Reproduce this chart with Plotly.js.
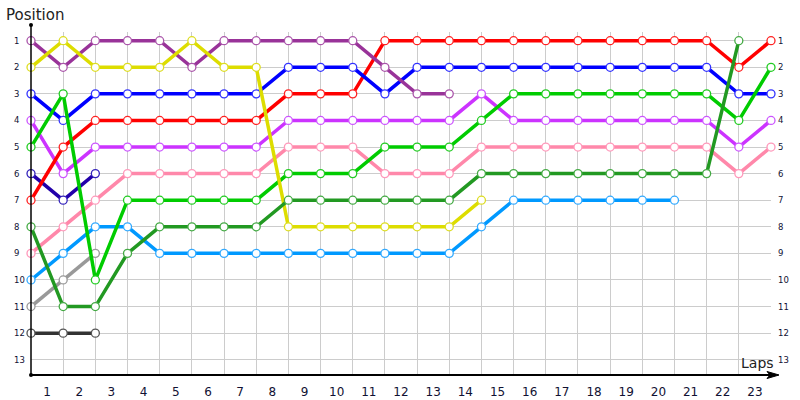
<!DOCTYPE html>
<html>
<head>
<meta charset="utf-8">
<script src="https://cdn.plot.ly/plotly-3.0.1.min.js"></script>
<style>html,body{margin:0;padding:0;background:#fff}#chart{width:800px;height:400px}</style>
</head>
<body>
<div id="chart"></div>
<script>
// ---- data ----
const laps = [0,1,2,3,4,5,6,7,8,9,10,11,12,13,14,15,16,17,18,19,20,21,22,23];
const lapLabels = ['1','2','3','4','5','6','7','8','9','10','11','12','13','14','15','16','17','18','19','20','21','22','23'];
const positionLabels = [1,2,3,4,5,6,7,8,9,10,11,12,13];

const skyBlue   = [10,9,8,8,9,9,9,9,9,9,9,9,9,9,8,7,7,7,7,7,7];
const grey      = [11,10,9];
const black     = [12,12,12];
const navy      = [6,7,6];
const pink      = [9,8,7,6,6,6,6,6,5,5,5,6,6,6,5,5,5,5,5,5,5,5,6,5];
const violet    = [4,6,5,5,5,5,5,5,4,4,4,4,4,4,3,4,4,4,4,4,4,4,5,4];
const red       = [7,5,4,4,4,4,4,4,3,3,3,1,1,1,1,1,1,1,1,1,1,1,2,1];
const blue      = [3,4,3,3,3,3,3,3,2,2,2,3,2,2,2,2,2,2,2,2,2,2,3,3];
const purple    = [1,2,1,1,1,2,1,1,1,1,1,2,3,3];
const green     = [5,3,10,7,7,7,7,7,6,6,6,5,5,5,4,3,3,3,3,3,3,3,4,2];
const yellow    = [2,1,2,2,2,1,2,2,8,8,8,8,8,8,7];
const darkGreen = [8,11,11,9,8,8,8,8,7,7,7,7,7,7,6,6,6,6,6,6,6,6,1];

const seriesList = [
  {vals: skyBlue,   color: '#0099ff', mk: '#33aaff'},
  {vals: grey,      color: '#999999', mk: '#999999'},
  {vals: black,     color: '#333333', mk: '#555555'},
  {vals: navy,      color: '#2200aa', mk: '#3322bb'},
  {vals: pink,      color: '#ff88aa', mk: '#ff99bb'},
  {vals: violet,    color: '#cc33ff', mk: '#cc55ff'},
  {vals: red,       color: '#ff0000', mk: '#ff2222'},
  {vals: blue,      color: '#0000ff', mk: '#3333ff'},
  {vals: purple,    color: '#993399', mk: '#aa55aa'},
  {vals: green,     color: '#00cc00', mk: '#22cc22'},
  {vals: yellow,    color: '#dddd00', mk: '#dddd22'},
  {vals: darkGreen, color: '#229922', mk: '#44aa44'}
];

const traces = seriesList.map(s => ({
  type: 'scatter',
  mode: 'lines+markers',
  x: laps.slice(0, s.vals.length),
  y: s.vals,
  line: {color: s.color, width: 3.5},
  marker: {symbol: 'circle', size: 8, color: '#ffffff', line: {color: s.mk, width: 1.3}},
  hoverinfo: 'x+y',
  cliponaxis: false
}));

// geometry helpers for decorations (axis lines / arrow)
const L = 31, R = 29, T = 32, B = 25, W = 800, H = 400;
const pw = W - L - R, ph = H - T - B;
const px2x = px => (px - L) / pw;
const py2y = py => (H - B - py) / ph;

const shapes = [
  {type: 'line', xref: 'paper', yref: 'paper', x0: 0, x1: 0, y0: 0, y1: py2y(25), line: {color: '#000', width: 1.5}},
  {type: 'line', xref: 'paper', yref: 'paper', x0: 0, x1: px2x(772), y0: 0, y1: 0, line: {color: '#000', width: 2}},
  {type: 'path', xref: 'paper', yref: 'paper',
   path: 'M ' + px2x(779) + ' ' + py2y(375) + ' L ' + px2x(767) + ' ' + py2y(371.5) + ' L ' + px2x(770) + ' ' + py2y(375) + ' L ' + px2x(767) + ' ' + py2y(378.5) + ' Z',
   fillcolor: '#000', line: {color: '#000', width: 1}},
  {type: 'circle', xref: 'paper', yref: 'paper', x0: px2x(29), x1: px2x(33), y0: py2y(27), y1: py2y(23), fillcolor: '#000', line: {color: '#000', width: 0}},
  {type: 'circle', xref: 'paper', yref: 'paper', x0: px2x(29), x1: px2x(33), y0: py2y(377), y1: py2y(373), fillcolor: '#000', line: {color: '#000', width: 0}}
];

const tickFont = {family: 'DejaVu Sans', size: 8.5, color: '#111133'};
const annotations = [];
positionLabels.forEach(p => {
  annotations.push({xref: 'paper', yref: 'y', x: px2x(12), y: p, text: String(p), showarrow: false, xanchor: 'left', yanchor: 'middle', font: tickFont});
  annotations.push({xref: 'paper', yref: 'y', x: 1, xshift: 5, y: p, text: String(p), showarrow: false, xanchor: 'left', yanchor: 'middle', font: tickFont});
});
annotations.push({xref: 'paper', yref: 'paper', x: px2x(4), y: py2y(15), text: 'Position', showarrow: false, xanchor: 'left', yanchor: 'middle', font: {family: 'DejaVu Sans', size: 15, color: '#222'}});
annotations.push({xref: 'paper', yref: 'paper', x: px2x(776), y: py2y(363), text: 'Laps', showarrow: false, xanchor: 'right', yanchor: 'middle', font: {family: 'DejaVu Sans', size: 14, color: '#222'}});

const layout = {
  width: W, height: H,
  margin: {l: L, r: R, t: T, b: B, pad: 0},
  paper_bgcolor: '#ffffff', plot_bgcolor: '#ffffff',
  showlegend: false,
  xaxis: {
    range: [laps[0], laps[laps.length - 1]],
    tickmode: 'array',
    tickvals: lapLabels.map((_, i) => laps[i] + 0.5),
    ticktext: lapLabels,
    ticks: '', showgrid: false, zeroline: false, showline: false,
    ticklabelstandoff: 8,
    tickfont: {family: 'DejaVu Sans', size: 12, color: '#111133'},
    minor: {tickmode: 'array', tickvals: laps, showgrid: true, gridcolor: '#cccccc', gridwidth: 1, ticks: ''},
    fixedrange: true
  },
  yaxis: {
    range: [13.575, 0.673],
    tickmode: 'array', tickvals: positionLabels,
    showticklabels: false, ticks: '',
    showgrid: true, gridcolor: '#cccccc', gridwidth: 1,
    zeroline: false, showline: false, fixedrange: true
  },
  shapes: shapes,
  annotations: annotations
};

Plotly.newPlot('chart', traces, layout, {displayModeBar: false, staticPlot: true});
</script>
</body>
</html>
